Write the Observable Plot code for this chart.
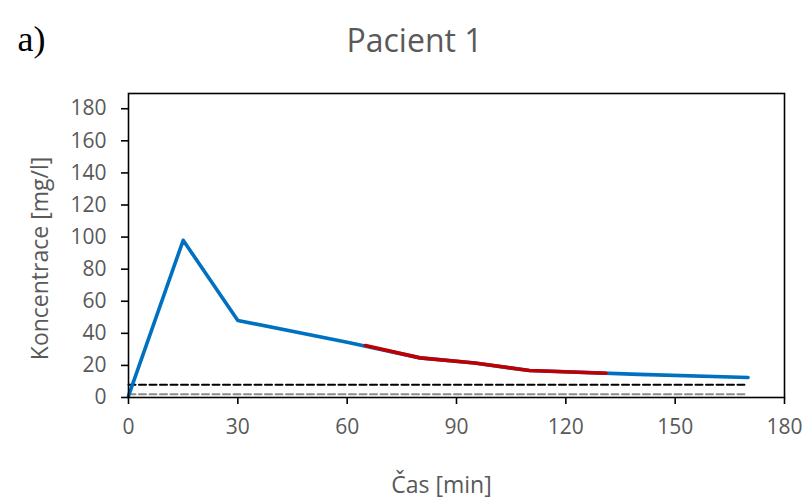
<!DOCTYPE html>
<html>
<head>
<meta charset="utf-8">
<script src="https://cdn.jsdelivr.net/npm/d3@7"></script>
<script src="https://cdn.jsdelivr.net/npm/@observablehq/plot@0.6"></script>
<style>
  html, body { margin: 0; padding: 0; background: #fff; }
  #chart svg { display: block; }
</style>
</head>
<body>
<div id="chart"></div>
<script>
// Concentration profile of patient 1
const timeAll = [0, 15, 30, 60, 80, 95, 110, 140, 170];
const concAll = [1, 98, 48, 34.5, 24.7, 21.5, 16.8, 14.4, 12.5];

// Highlighted interval
const timeRed = [65, 80, 95, 110, 131];
const concRed = [32.4, 24.7, 21.5, 16.8, 15.1];

// Reference levels (dashed)
const limitTime = [0, 169];
const limitUpper = 8;
const limitLower = 2;

const xTicks = [0, 30, 60, 90, 120, 150, 180];
const yTicks = [0, 20, 40, 60, 80, 100, 120, 140, 160, 180];

const title = "Pacient 1";
const panel = "a)";
const xLabel = "Čas [min]";
const yLabel = "Koncentrace [mg/l]";

const allData = timeAll.map((t, i) => ({t, c: concAll[i]}));
const redData = timeRed.map((t, i) => ({t, c: concRed[i]}));
const upper = limitTime.map(t => ({t, c: limitUpper}));
const lower = limitTime.map(t => ({t, c: limitLower}));

const grey = "#595959";

const chart = Plot.plot({
  width: 807,
  height: 501,
  marginLeft: 128,
  marginRight: 23,
  marginTop: 93,
  marginBottom: 104,
  style: {fontFamily: "'Open Sans', sans-serif", background: "#fff", overflow: "visible"},
  x: {domain: [0, 180]},
  y: {domain: [0, 189.5]},
  marks: [
    Plot.line(lower, {x: "t", y: "c", stroke: "#8c8c8c", strokeWidth: 2, strokeDasharray: "7,3.5"}),
    Plot.line(upper, {x: "t", y: "c", stroke: "#000", strokeWidth: 2, strokeDasharray: "7,3.5"}),
    Plot.line(allData, {x: "t", y: "c", stroke: "#0070C0", strokeWidth: 3.6, strokeLinejoin: "round", strokeLinecap: "round"}),
    Plot.line(redData, {x: "t", y: "c", stroke: "#C00000", strokeWidth: 3.6, strokeLinejoin: "round"}),
    Plot.frame({stroke: "#000", strokeWidth: 1.6}),
    Plot.axisX({ticks: xTicks, tickSize: 7, tickPadding: 15, tickFormat: d => d, fontSize: 21, color: grey, stroke: "#000", strokeWidth: 1.6, label: null}),
    Plot.axisY({ticks: yTicks, tickSize: 7, tickPadding: 15, tickFormat: d => d, fontSize: 21, color: grey, stroke: "#000", strokeWidth: 1.6, label: null}),
    Plot.text([title], {frameAnchor: "top", dx: -42, dy: -52, fontSize: 32, fill: grey, lineAnchor: "middle"}),
    Plot.text([xLabel], {frameAnchor: "bottom", dx: -15, dy: 88, fontSize: 23, fill: grey, lineAnchor: "middle"}),
    Plot.text([yLabel], {frameAnchor: "left", dx: -88, dy: 13, rotate: -90, textAnchor: "middle", fontSize: 23, fill: grey, lineAnchor: "middle"}),
    Plot.text([panel], {frameAnchor: "top-left", dx: -111, dy: -43, fontSize: 36, fontFamily: "'Liberation Serif', 'Times New Roman', serif", fill: "#000", textAnchor: "start", lineAnchor: "bottom"})
  ]
});

document.getElementById("chart").appendChild(chart);
</script>
</body>
</html>
